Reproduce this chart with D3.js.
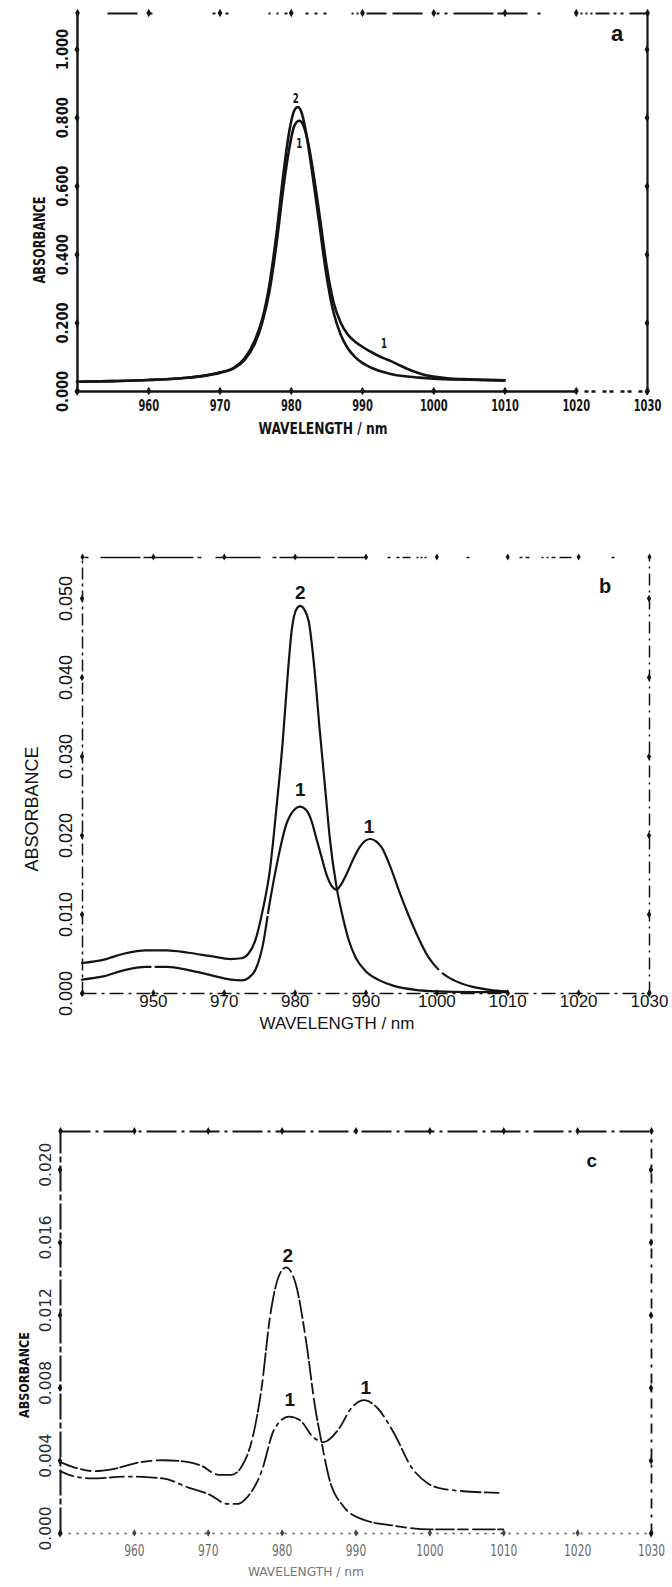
<!DOCTYPE html>
<html><head><meta charset="utf-8">
<script src="https://cdn.jsdelivr.net/npm/d3@7"></script>
<style>body{margin:0;background:#fff}</style>
</head><body>
<svg id="chart" width="672" height="1587"></svg>
<script>
// ---------------- DATA ----------------
const xTickValues = [950, 960, 970, 980, 990, 1000, 1010, 1020, 1030];
const aXTickLabels = ["", "960", "970", "980", "990", "1000", "1010", "1020", "1030"];
const bXTickLabels = ["", "950", "970", "980", "990", "1000", "1010", "1020", "1030"];
const cXTickLabels = ["", "960", "970", "980", "990", "1000", "1010", "1020", "1030"];

const aYTicks = [0, 0.2, 0.4, 0.6, 0.8, 1.0];
const aYTickLabels = ["0.000", "0.200", "0.400", "0.600", "0.800", "1.000"];
const bYTicks = [0, 0.01, 0.02, 0.03, 0.04, 0.05];
const bYTickLabels = ["0.000", "0.010", "0.020", "0.030", "0.040", "0.050"];
const cYTicks = [0, 0.004, 0.008, 0.012, 0.016, 0.020];
const cYTickLabels = ["0.000", "0.004", "0.008", "0.012", "0.016", "0.020"];

// panel a
const aCurve1Wl  = [950, 955, 960, 965, 968, 970, 972, 973.5, 975, 976, 977, 978, 979, 979.8, 980.5, 981.2, 981.8, 982.5, 983.3, 984.2, 985, 986, 987, 988, 989, 990, 991, 992, 993, 994, 995, 996, 997, 998, 999, 1000, 1002, 1005, 1010];
const aCurve1Abs = [0.027, 0.029, 0.032, 0.038, 0.045, 0.053, 0.066, 0.09, 0.14, 0.20, 0.29, 0.43, 0.60, 0.71, 0.775, 0.79, 0.775, 0.72, 0.62, 0.49, 0.37, 0.26, 0.20, 0.165, 0.145, 0.13, 0.117, 0.106, 0.096, 0.088, 0.078, 0.068, 0.059, 0.052, 0.046, 0.042, 0.037, 0.034, 0.031];
const aCurve2Wl  = [950, 955, 960, 965, 968, 970, 972, 973.5, 975, 976, 977, 978, 979, 979.8, 980.5, 981, 981.5, 982.2, 983, 984, 985, 986, 987, 988, 989, 990, 992, 994, 996, 998, 1000, 1005, 1010];
const aCurve2Abs = [0.027, 0.029, 0.032, 0.038, 0.045, 0.054, 0.068, 0.095, 0.15, 0.21, 0.31, 0.46, 0.64, 0.76, 0.82, 0.83, 0.815, 0.75, 0.64, 0.49, 0.34, 0.23, 0.165, 0.125, 0.10, 0.083, 0.062, 0.050, 0.043, 0.039, 0.036, 0.033, 0.031];

// panel b
const bCurve1Wl  = [950, 953, 956, 959, 962, 965, 968, 971, 972.5, 973.5, 974.5, 975.5, 976.5, 977.7, 978.7, 979.6, 980.8, 981.6, 982.3, 983, 983.8, 984.5, 985.2, 985.9, 986.6, 987.4, 988.3, 989.2, 990, 990.7, 991.5, 992.3, 993.5, 994.7, 996, 997.1, 998.9, 1000.5, 1002.5, 1005, 1007.5, 1010];
const bCurve1Abs = [0.0017, 0.0021, 0.0029, 0.0033, 0.0033, 0.0029, 0.0023, 0.0017, 0.0016, 0.0019, 0.0030, 0.0060, 0.0115, 0.0172, 0.0210, 0.0228, 0.0236, 0.0232, 0.0220, 0.0198, 0.0172, 0.0150, 0.0136, 0.0131, 0.0138, 0.0152, 0.0170, 0.0185, 0.0193, 0.0195, 0.0192, 0.0184, 0.0160, 0.0130, 0.0100, 0.0077, 0.0045, 0.0028, 0.0016, 0.0008, 0.0004, 0.0002];
const bCurve2Wl  = [950, 953, 956, 959, 962, 965, 968, 971, 972.5, 973.5, 974.5, 975.5, 976.5, 977.5, 978.3, 979, 979.6, 980.2, 980.8, 981.4, 982, 982.8, 983.5, 984.3, 985, 985.9, 986.7, 987.6, 988.6, 990, 992, 994, 997, 1000, 1005, 1010];
const bCurve2Abs = [0.0038, 0.0042, 0.0050, 0.0054, 0.0054, 0.0051, 0.0047, 0.0043, 0.0044, 0.0050, 0.0068, 0.0105, 0.0155, 0.0240, 0.0316, 0.0400, 0.0460, 0.0485, 0.0490, 0.0485, 0.0470, 0.0410, 0.0337, 0.0260, 0.0193, 0.0135, 0.0100, 0.0068, 0.0045, 0.0028, 0.0016, 0.0009, 0.0004, 0.0002, 0.0001, 0.0001];

// panel c
const cCurve1Wl  = [950, 952, 954.3, 959.3, 963.9, 967.4, 970.3, 972.6, 974.1, 975.2, 977.3, 979, 981, 982.5, 984.2, 985.7, 987.7, 989.5, 991.2, 992.9, 995.2, 997.6, 999.9, 1002.2, 1009.5];
const cCurve1Abs = [0.0034, 0.0031, 0.0030, 0.0031, 0.0030, 0.0025, 0.0021, 0.0016, 0.0016, 0.0019, 0.0034, 0.0057, 0.0064, 0.0062, 0.0053, 0.0050, 0.0057, 0.0069, 0.0073, 0.0069, 0.0055, 0.0036, 0.0027, 0.0024, 0.0022];
const cCurve2Wl  = [950, 952, 954.6, 957, 961, 964, 967.4, 969.1, 971.5, 973.2, 974.5, 976.1, 977.3, 978.4, 979.6, 980.6, 981.9, 983.4, 984.5, 985.4, 986.5, 988.3, 990.6, 995.2, 1000, 1010];
const cCurve2Abs = [0.0039, 0.0036, 0.0034, 0.0035, 0.0039, 0.0040, 0.0039, 0.0037, 0.0032, 0.0032, 0.0036, 0.0053, 0.0080, 0.0118, 0.0141, 0.0146, 0.0137, 0.0103, 0.0070, 0.0050, 0.0029, 0.0015, 0.0008, 0.0004, 0.0002, 0.0002];

// annotations (text, wavelength, absorbance)
const aNotes = [["2", 980.7, 0.857], ["1", 981.2, 0.725], ["1", 993.1, 0.14], ["a", 1025.8, 1.047]];
const bNotes = [["2", 980.8, 0.0508], ["1", 980.8, 0.0258], ["1", 990.5, 0.0211], ["b", 1023.8, 0.0516]];
const cNotes = [["2", 980.85, 0.01527], ["1", 981.1, 0.00736], ["1", 991.4, 0.00802], ["c", 1022, 0.0205]];

// ---------------- DRAW ----------------
const svg = d3.select("#chart");
svg.append("rect").attr("width", 672).attr("height", 1587).attr("fill", "#fff");
const INK = "#141414";

function repeatDash(arr, n) { let out = []; for (let i = 0; i < n; i++) out = out.concat(arr); return out.join(","); }

function panel(p) {
  const g = svg.append("g");
  const x = d3.scaleLinear().domain([950, 1030]).range([p.L, p.R]);
  const y = d3.scaleLinear().domain([0, p.yMax]).range([p.B, p.T]);

  const gb = g.append("g").attr("transform", `translate(0,${p.B})`)
    .call(d3.axisBottom(x).tickValues(xTickValues).tickSize(0).tickSizeOuter(0).tickFormat((d, i) => p.xLabels[i]));
  const gl = g.append("g").attr("transform", `translate(${p.L},0)`)
    .call(d3.axisLeft(y).tickValues(p.yTicks).tickSize(0).tickSizeOuter(0).tickFormat((d, i) => p.yLabels[i]));
  const gt = g.append("g").attr("transform", `translate(0,${p.T})`)
    .call(d3.axisTop(x).tickValues(xTickValues).tickSize(0).tickSizeOuter(0).tickFormat(() => ""));
  const gr = g.append("g").attr("transform", `translate(${p.R},0)`)
    .call(d3.axisRight(y).tickValues(p.yTicks).tickSize(0).tickSizeOuter(0).tickFormat(() => ""));

  [[gb, p.bottom], [gl, p.left], [gt, p.top], [gr, p.right]].forEach(([ax, st]) => {
    ax.attr("font-family", null).attr("font-size", null);
    ax.select(".domain").attr("stroke", st.color || INK).attr("stroke-width", st.w)
      .attr("stroke-dasharray", st.dash || null).attr("fill", "none");
    ax.selectAll(".tick").append("path")
      .attr("d", d3.symbol(d3.symbolDiamond, st.dot)())
      .attr("fill", st.color || INK);
  });

  // x tick labels
  gb.selectAll(".tick text")
    .attr("y", p.xLabelY - p.B).attr("dy", "0.35em")
    .attr("font-family", p.xFont.family).attr("font-size", p.xFont.size)
    .attr("font-weight", p.xFont.weight).attr("fill", p.xFont.color || INK)
    .each(function () {
      const t = d3.select(this);
      if (p.xFont.charW) t.attr("textLength", t.text().length * p.xFont.charW).attr("lengthAdjust", "spacingAndGlyphs");
    });
  // y tick labels (rotated)
  gl.selectAll(".tick text")
    .attr("x", null).attr("dy", "0.36em").attr("text-anchor", "middle")
    .attr("transform", (d) => `translate(${p.yLabelX - p.L},${p.yLabelShift || 0}) rotate(-90)`)
    .attr("font-family", p.yFont.family).attr("font-size", p.yFont.size)
    .attr("font-weight", p.yFont.weight).attr("fill", p.yFont.color || INK)
    .each(function () {
      const t = d3.select(this);
      if (p.yFont.len) t.attr("textLength", p.yFont.len).attr("lengthAdjust", "spacingAndGlyphs");
    });

  // curves
  const line = d3.line().x(d => x(d[0])).y(d => y(d[1])).curve(d3.curveMonotoneX);
  p.series.forEach(s => {
    g.append("path").datum(d3.zip(s.wl, s.abs))
      .attr("d", line).attr("fill", "none").attr("stroke", INK)
      .attr("stroke-width", s.w).attr("stroke-dasharray", s.dash || null)
      .attr("stroke-linejoin", "round").attr("stroke-linecap", "round");
  });

  // annotations
  p.notes.forEach(([txt, wl, ab]) => {
    const f = (txt === "1" || txt === "2") ? p.noteFont : p.letterFont;
    const t = g.append("text").attr("x", x(wl)).attr("y", y(ab)).attr("dy", "0.36em")
      .attr("text-anchor", "middle").attr("font-family", f.family).attr("font-size", f.size)
      .attr("font-weight", f.weight).attr("fill", INK).text(txt);
    if (f.len) t.attr("textLength", f.len).attr("lengthAdjust", "spacingAndGlyphs");
  });

  // axis titles
  const xt = g.append("text").attr("x", p.xTitle.x).attr("y", p.xTitle.y).attr("dy", "0.36em")
    .attr("text-anchor", "middle").attr("font-family", p.xTitle.family).attr("font-size", p.xTitle.size)
    .attr("font-weight", p.xTitle.weight).attr("fill", p.xTitle.color || INK).text("WAVELENGTH / nm");
  if (p.xTitle.len) xt.attr("textLength", p.xTitle.len).attr("lengthAdjust", "spacingAndGlyphs");
  const yt = g.append("text").attr("transform", `translate(${p.yTitle.x},${p.yTitle.y}) rotate(-90)`)
    .attr("dy", "0.36em").attr("text-anchor", "middle").attr("font-family", p.yTitle.family)
    .attr("font-size", p.yTitle.size).attr("font-weight", p.yTitle.weight).attr("fill", p.yTitle.color || INK)
    .text("ABSORBANCE");
  if (p.yTitle.len) yt.attr("textLength", p.yTitle.len).attr("lengthAdjust", "spacingAndGlyphs");
}

const COND = "'DejaVu Sans Condensed', 'Liberation Sans Narrow', 'DejaVu Sans', sans-serif";
const ARIAL = "'Liberation Sans', Arial, sans-serif";

// Panel a
panel({
  L: 77, R: 647, T: 13, B: 391, yMax: 1.105,
  yTicks: aYTicks, yLabels: aYTickLabels, xLabels: aXTickLabels,
  bottom: { w: 2.4, dash: "500," + repeatDash([7, 4, 3, 4], 8), dot: 22 },
  left: { w: 2.4, dot: 22 },
  top: { w: 1.8, dash: "0,30,30,12,3,60,3,10,3,40,2,6,2,6,3,18,3,6,3,6,3,25,2,3,2,3,2,3,20,6,30,14,3,5,3,6,40,4,30,10,3,40,2,3,2,3,2,3,14,4,3,4,3,6,10", dot: 20 },
  right: { w: 2.2, dot: 20 },
  xLabelY: 406, yLabelX: 62,
  xFont: { family: COND, size: 15, weight: "bold", charW: 6.9 },
  yFont: { family: COND, size: 16, weight: "bold", len: 41 },
  series: [{ wl: aCurve1Wl, abs: aCurve1Abs, w: 2.6 }, { wl: aCurve2Wl, abs: aCurve2Abs, w: 2.6 }],
  notes: aNotes,
  noteFont: { family: COND, size: 14, weight: "bold", len: 6 },
  letterFont: { family: ARIAL, size: 22, weight: "bold" },
  xTitle: { x: 323, y: 429, family: COND, size: 15, weight: "bold", len: 129 },
  yTitle: { x: 40, y: 240, family: COND, size: 15, weight: "bold", len: 87 }
});

// Panel b
panel({
  L: 82, R: 649, T: 557, B: 993, yMax: 0.0552,
  yTicks: bYTicks, yLabels: bYTickLabels, xLabels: bXTickLabels,
  bottom: { w: 1.6, dash: "14,5,3,5", dot: 16 },
  left: { w: 1.5, dash: "12,4,3,4", dot: 16 },
  top: { w: 1.5, dash: "0,2,4,12,40,3,50,4,4,14,45,12,4,3,55,3,30,20,3,6,3,3,8,6,2,2,2,2,2,40,3,50,3,3,4,12,2,3,2,3,2", dot: 14 },
  right: { w: 1.5, dash: "12,5,2,5", dot: 16 },
  xLabelY: 1001, yLabelX: 66, yLabelShift: 0,
  xFont: { family: ARIAL, size: 17, weight: "normal" },
  yFont: { family: ARIAL, size: 18, weight: "normal" },
  series: [{ wl: bCurve1Wl, abs: bCurve1Abs, w: 2.2, dash: "70,5,160,4,420,6,300" }, { wl: bCurve2Wl, abs: bCurve2Abs, w: 2.2 }],
  notes: bNotes,
  noteFont: { family: ARIAL, size: 19, weight: "bold" },
  letterFont: { family: ARIAL, size: 20, weight: "bold" },
  xTitle: { x: 337, y: 1023, family: ARIAL, size: 17, weight: "normal" },
  yTitle: { x: 32, y: 809, family: ARIAL, size: 18, weight: "normal" }
});

// Panel c
panel({
  L: 60, R: 651, T: 1131, B: 1533, yMax: 0.0221,
  yTicks: cYTicks, yLabels: cYTickLabels, xLabels: cXTickLabels,
  bottom: { w: 1.4, dash: "2,6", dot: 16, color: "#444" },
  left: { w: 2.0, dash: "26,3,6,3", dot: 18 },
  top: { w: 2.2, dash: "30,5,3,5", dot: 18 },
  right: { w: 1.8, dash: "10,6,3,6", dot: 18 },
  xLabelY: 1551, yLabelX: 46, yLabelShift: -5,
  xFont: { family: COND, size: 15, weight: "normal", color: "#6a6a6a", charW: 6.8 },
  yFont: { family: COND, size: 15, weight: "normal", color: "#2a2a2a", len: 44 },
  series: [{ wl: cCurve1Wl, abs: cCurve1Abs, w: 1.8, dash: "14,5,3,5,20,4" }, { wl: cCurve2Wl, abs: cCurve2Abs, w: 1.8, dash: "18,4,10,5,22,3" }],
  notes: cNotes,
  noteFont: { family: ARIAL, size: 19, weight: "bold" },
  letterFont: { family: ARIAL, size: 19, weight: "bold" },
  xTitle: { x: 306, y: 1571, family: COND, size: 13, weight: "normal", color: "#777", len: 116 },
  yTitle: { x: 24, y: 1375, family: COND, size: 14, weight: "bold", len: 86 }
});
</script>
</body></html>
